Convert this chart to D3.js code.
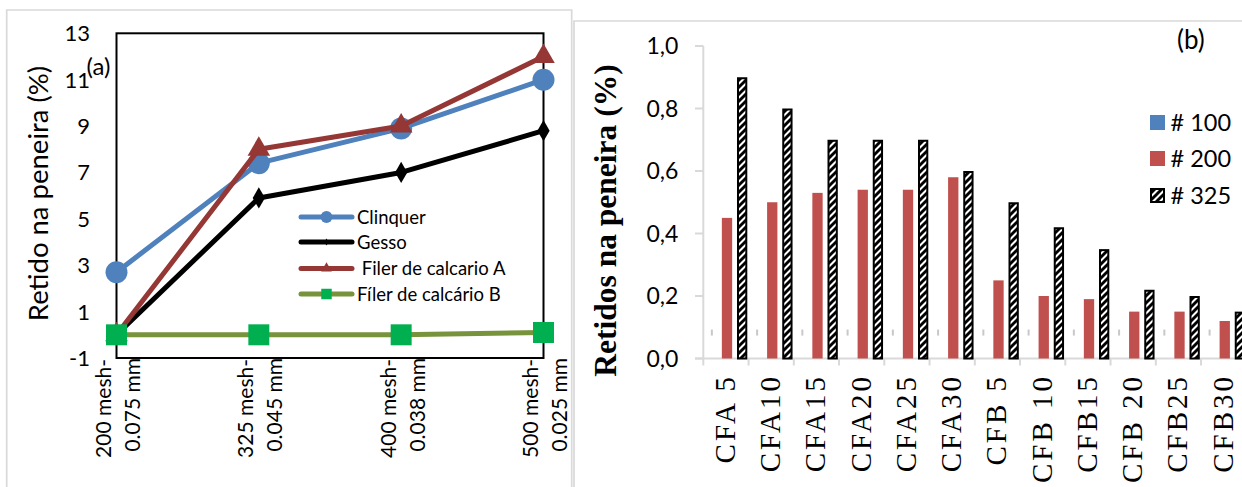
<!DOCTYPE html>
<html>
<head>
<meta charset="utf-8">
<script src="https://cdn.jsdelivr.net/npm/d3@7"></script>
<style>
  html, body { margin: 0; padding: 0; background: #fff; }
  svg { display: block; }
  .sans { font-family: Lato, "Open Sans", sans-serif; fill: #000; }
  .serif { font-family: "Liberation Serif", "Times New Roman", serif; fill: #000; }
</style>
</head>
<body>
<svg id="fig" width="1242" height="487"></svg>
<script>
// ---------- (a) residue per sieve ----------
const meshLabels = ["200 mesh-", "325 mesh-", "400 mesh-", "500 mesh-"];
const sizeLabels = ["0.075 mm", "0.045 mm", "0.038 mm", "0.025 mm"];
const clinquer = [2.7, 7.4, 8.9, 11.0];
const gesso    = [0.0, 5.9, 7.0, 8.8];
const filerA   = [0.0, 8.0, 9.0, 12.0];
const filerB   = [0.0, 0.0, 0.0, 0.1];
const seriesNamesA = ["Clinquer", "Gesso", " Filer de calcario A", "Fíler de calcário B"];
const yTicksA = [-1, 1, 3, 5, 7, 9, 11, 13];

// ---------- (b) residue per mix ----------
const mixes = ["CFA 5", "CFA10", "CFA15", "CFA20", "CFA25", "CFA30",
               "CFB 5", "CFB 10", "CFB15", "CFB 20", "CFB25", "CFB30"];
const sieve100 = [0, 0, 0, 0, 0, 0, 0, 0, 0, 0, 0, 0];
const sieve200 = [0.45, 0.50, 0.53, 0.54, 0.54, 0.58, 0.25, 0.20, 0.19, 0.15, 0.15, 0.12];
const sieve325 = [0.90, 0.80, 0.70, 0.70, 0.70, 0.60, 0.50, 0.42, 0.35, 0.22, 0.20, 0.15];
const sieveNames = ["# 100", "# 200", "# 325"];
const yTicksB = [0, 0.2, 0.4, 0.6, 0.8, 1.0];
const markLevel = 0.083;

const svg = d3.select("#fig");
svg.append("rect").attr("width", 1242).attr("height", 487).attr("fill", "#fff");

// hatch fill for the # 325 bars
const defs = svg.append("defs");
const pat = defs.append("pattern")
  .attr("id", "hatch").attr("patternUnits", "userSpaceOnUse")
  .attr("width", 7).attr("height", 7);
pat.append("rect").attr("width", 7).attr("height", 7).attr("fill", "#fff");
pat.append("path")
  .attr("d", "M-2,2 L2,-2 M0,7 L7,0 M5,9 L9,5")
  .attr("stroke", "#000").attr("stroke-width", 2.9);

// ================= panel (a) =================
const gA = svg.append("g");
gA.append("path")
  .attr("d", "M6.7,487 V10 H571.7 V487")
  .attr("fill", "none").attr("stroke", "#d9d9d9").attr("stroke-width", 1.7);

const xA = d3.scalePoint().domain(meshLabels).range([116.5, 543.5]);
const yA = d3.scaleLinear().domain([-1, 13]).range([358, 33.3]);

// plot frame
gA.append("rect")
  .attr("x", xA.range()[0]).attr("y", yA(13))
  .attr("width", xA.range()[1] - xA.range()[0])
  .attr("height", yA(-1) - yA(13))
  .attr("fill", "none").attr("stroke", "#000").attr("stroke-width", 2);

// y tick labels
gA.selectAll(".ytA").data(yTicksA).join("text")
  .attr("class", "sans")
  .attr("x", 90).attr("y", d => yA(d))
  .attr("dy", "0.36em")
  .attr("text-anchor", "end")
  .attr("font-size", 22)
  .text(d => d);

// x category labels, two lines each, rotated
meshLabels.forEach((m, i) => {
  const cx = xA(m);
  gA.append("text").attr("class", "sans")
    .attr("transform", `translate(${cx - 5.5},359) rotate(-90)`)
    .attr("text-anchor", "end").attr("font-size", 21)
    .text(m);
  gA.append("text").attr("class", "sans")
    .attr("transform", `translate(${cx + 23.5},358) rotate(-90)`)
    .attr("text-anchor", "end").attr("font-size", 21)
    .text(sizeLabels[i]);
});

// y axis title
gA.append("text").attr("class", "sans")
  .attr("transform", "translate(48,193.5) rotate(-90)")
  .attr("text-anchor", "middle").attr("font-size", 27.5)
  .text("Retido na peneira (%)");

gA.append("text").attr("class", "sans")
  .attr("x", 86.5).attr("y", 66.7).attr("dy", "0.36em")
  .attr("font-size", 24).text("(a)");

const symCircle = d3.symbol().type(d3.symbolCircle);
const symDiamond = d3.symbol().type(d3.symbolDiamond);
const symTriangle = d3.symbol().type(d3.symbolTriangle);
const symSquare = d3.symbol().type(d3.symbolSquare);

const seriesA = [
  { name: seriesNamesA[0], values: clinquer, line: "#4F81BD", fill: "#4F81BD", sym: symCircle, size: 380, legSize: 110 },
  { name: seriesNamesA[1], values: gesso,    line: "#000000", fill: "#000000", sym: symDiamond, size: 130, legSize: 14 },
  { name: seriesNamesA[2], values: filerA,   line: "#953735", fill: "#953735", sym: symTriangle, size: 220, legSize: 50 },
  { name: seriesNamesA[3], values: filerB,   line: "#77933C", fill: "#00B050", sym: symSquare, size: 440, legSize: 110 }
];

const lineA = d3.line().x((d, i) => xA(meshLabels[i])).y(d => yA(d));

seriesA.forEach(s => {
  const g = gA.append("g");
  g.append("path").datum(s.values)
    .attr("d", lineA)
    .attr("fill", "none").attr("stroke", s.line)
    .attr("stroke-width", 5).attr("stroke-linejoin", "round");
  g.selectAll("path.m").data(s.values).join("path")
    .attr("class", "m")
    .attr("transform", (d, i) => `translate(${xA(meshLabels[i])},${yA(d)})`)
    .attr("d", s.sym.size(s.size)())
    .attr("fill", s.fill);
});

// legend (a)
const legA = gA.append("g");
const legY = [217, 242, 268.5, 294];
seriesA.forEach((s, i) => {
  legA.append("line")
    .attr("x1", 301).attr("x2", 352).attr("y1", legY[i]).attr("y2", legY[i])
    .attr("stroke", s.line).attr("stroke-width", 5).attr("stroke-linecap", "round");
  legA.append("path")
    .attr("transform", `translate(326.5,${legY[i]})`)
    .attr("d", s.sym.size(s.legSize)())
    .attr("fill", s.fill);
  legA.append("text").attr("class", "sans")
    .attr("x", 357).attr("y", legY[i]).attr("dy", "0.36em")
    .attr("font-size", 18.5)
    .style("white-space", "pre")
    .text(s.name);
});

// ================= panel (b) =================
const gB = svg.append("g");
gB.append("path")
  .attr("d", "M574,487 V21 H1242")
  .attr("fill", "none").attr("stroke", "#d9d9d9").attr("stroke-width", 1.7);

const bandStart = 703.3, bandW = 45.25;
const xB = d3.scaleBand().domain(mixes)
  .range([bandStart, bandStart + bandW * mixes.length])
  .paddingInner(0).paddingOuter(0);
const xInner = d3.scaleBand().domain(sieveNames)
  .range([3.4, 44]).paddingInner(0.32).paddingOuter(0);
const yB = d3.scaleLinear().domain([0, 1]).range([358.5, 46]);

// axes
gB.append("line")
  .attr("x1", bandStart).attr("x2", bandStart)
  .attr("y1", yB(1)).attr("y2", yB(0))
  .attr("stroke", "#d9d9d9").attr("stroke-width", 2);
gB.append("line")
  .attr("x1", 695).attr("x2", 1242)
  .attr("y1", yB(0)).attr("y2", yB(0))
  .attr("stroke", "#d9d9d9").attr("stroke-width", 2);
gB.selectAll(".ytickB").data(yTicksB).join("line")
  .attr("x1", 695).attr("x2", bandStart)
  .attr("y1", d => yB(d)).attr("y2", d => yB(d))
  .attr("stroke", "#d9d9d9").attr("stroke-width", 2);
gB.selectAll(".xtickB").data(mixes).join("line")
  .attr("x1", d => xB(d)).attr("x2", d => xB(d))
  .attr("y1", yB(0)).attr("y2", yB(0) + 7)
  .attr("stroke", "#d9d9d9").attr("stroke-width", 2);

const fmtB = v => d3.format(".1f")(v).replace(".", ",");
gB.selectAll(".ylabB").data(yTicksB).join("text")
  .attr("class", "sans")
  .attr("x", 678.3).attr("y", d => yB(d)).attr("dy", "0.36em")
  .attr("text-anchor", "end").attr("font-size", 23)
  .text(fmtB);

gB.append("text").attr("class", "serif")
  .attr("transform", "translate(616,220.5) rotate(-90)")
  .attr("text-anchor", "middle").attr("font-size", 31.5).attr("font-weight", "bold")
  .text("Retidos na peneira (%)");

// small grey marks in the # 100 slot
gB.selectAll(".mark100").data(mixes).join("rect")
  .attr("x", d => xB(d) + xInner("# 100") + xInner.bandwidth() / 2 - 1)
  .attr("y", yB(markLevel) - 3)
  .attr("width", 2).attr("height", 6)
  .attr("fill", "#c8c8c8");

// bars
gB.selectAll(".b100").data(sieve100).join("rect")
  .attr("x", (d, i) => xB(mixes[i]) + xInner("# 100"))
  .attr("y", d => yB(d)).attr("width", xInner.bandwidth())
  .attr("height", d => yB(0) - yB(d)).attr("fill", "#4F81BD");
gB.selectAll(".b200").data(sieve200).join("rect")
  .attr("x", (d, i) => xB(mixes[i]) + xInner("# 200"))
  .attr("y", d => yB(d)).attr("width", xInner.bandwidth())
  .attr("height", d => yB(0) - yB(d)).attr("fill", "#C0504D");
gB.selectAll(".b325").data(sieve325).join("rect")
  .attr("x", (d, i) => xB(mixes[i]) + xInner("# 325") + 1)
  .attr("y", d => yB(d) + 1).attr("width", xInner.bandwidth() - 2)
  .attr("height", d => yB(0) - yB(d) - 1)
  .attr("fill", "url(#hatch)").attr("stroke", "#000").attr("stroke-width", 2);

// category labels
gB.selectAll(".catB").data(mixes).join("text")
  .attr("class", "serif")
  .attr("transform", d => `translate(${xB(d) + xB.bandwidth() / 2 + 9},374) rotate(-90)`)
  .attr("text-anchor", "end").attr("font-size", 29)
  .attr("letter-spacing", 3)
  .style("white-space", "pre")
  .text(d => d);

gB.append("text").attr("class", "sans")
  .attr("x", 1177).attr("y", 40).attr("dy", "0.36em")
  .attr("font-size", 26).text("(b)");

// legend (b)
const legB = gB.append("g");
const legBY = [122.5, 158.5, 195.5];
const legFill = ["#4F81BD", "#C0504D", "url(#hatch)"];
sieveNames.forEach((n, i) => {
  legB.append("rect")
    .attr("x", i === 2 ? 1151 : 1150).attr("y", legBY[i] - (i === 2 ? 6.5 : 7.5))
    .attr("width", i === 2 ? 13 : 15).attr("height", i === 2 ? 13 : 15)
    .attr("fill", legFill[i])
    .attr("stroke", i === 2 ? "#000" : "none").attr("stroke-width", 2);
  legB.append("text").attr("class", "sans")
    .attr("x", 1170.5).attr("y", legBY[i]).attr("dy", "0.36em")
    .attr("font-size", 23.5).text(n);
});
</script>
</body>
</html>
